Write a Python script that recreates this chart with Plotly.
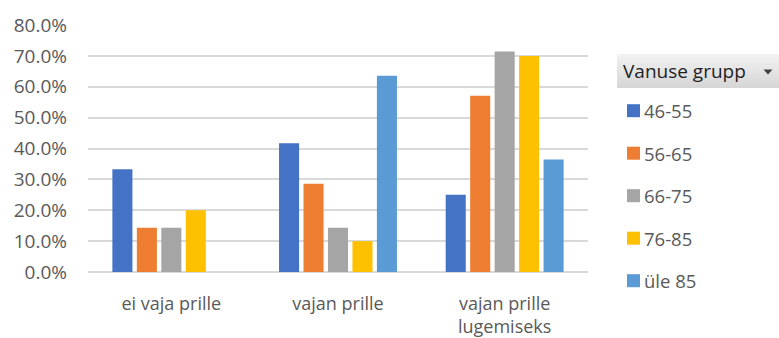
import plotly.graph_objects as go

# Categories and age groups
categories = ["ei vaja prille", "vajan prille", "vajan prille<br>lugemiseks"]
age_groups = ["46-55", "56-65", "66-75", "76-85", "üle 85"]

# Share of each answer within an age group
share_46_55 = [0.333, 0.417, 0.250]
share_56_65 = [0.143, 0.286, 0.571]
share_66_75 = [0.143, 0.143, 0.714]
share_76_85 = [0.200, 0.100, 0.700]
share_ule_85 = [0.0, 0.636, 0.364]

series_values = [share_46_55, share_56_65, share_66_75, share_76_85, share_ule_85]
colors = ["#4472C4", "#ED7D31", "#A5A5A5", "#FFC000", "#5B9BD5"]

legend_title = "Vanuse grupp"
y_ticks = [i / 10 for i in range(9)]

W, H = 779, 338
PLOT_L, PLOT_R, PLOT_T, PLOT_B = 88, 588, 25, 272
FONT = "Open Sans"
TEXT_GREY = "#595959"


def px(x):
    return (x - PLOT_L) / (PLOT_R - PLOT_L)


def py(y):
    return (PLOT_B - y) / (PLOT_B - PLOT_T)


fig = go.Figure()
for name, vals, col in zip(age_groups, series_values, colors):
    fig.add_trace(go.Bar(
        x=categories, y=vals, name=name,
        marker=dict(color=col, line=dict(width=0)),
        showlegend=False,
    ))

shapes = []
annotations = []

# Legend header: field button with a soft vertical gradient
hx0, hx1, hy0, hy1 = 617, 779, 54, 88
n_strips = 17
for i in range(n_strips):
    t = i / (n_strips - 1)
    g = int(round(0xF2 - t * (0xF2 - 0xD6)))
    c = f"rgb({g},{g},{g})"
    y0 = hy0 + (hy1 - hy0) * i / n_strips
    y1 = hy0 + (hy1 - hy0) * (i + 1) / n_strips
    shapes.append(dict(type="rect", xref="paper", yref="paper",
                       x0=px(hx0), x1=px(hx1), y0=py(y0), y1=py(y1),
                       fillcolor=c, line=dict(width=0), layer="below"))
annotations.append(dict(text=legend_title, xref="paper", yref="paper",
                        x=px(621), y=py(71.5), xanchor="left", yanchor="middle",
                        showarrow=False, font=dict(family=FONT, size=19, color="#1f1f1f")))
# dropdown arrow
tx, ty = 768, 72
shapes.append(dict(type="path", xref="paper", yref="paper",
                   path=f"M {px(tx-4.5)},{py(ty-2.5)} L {px(tx+4.5)},{py(ty-2.5)} L {px(tx)},{py(ty+2.5)} Z",
                   fillcolor="#404040", line=dict(width=0)))

# Legend entries
for i, (name, col) in enumerate(zip(age_groups, colors)):
    cy = 110.7 + 42.5 * i
    shapes.append(dict(type="rect", xref="paper", yref="paper",
                       x0=px(627), x1=px(640), y0=py(cy - 6.5), y1=py(cy + 6.5),
                       fillcolor=col, line=dict(width=0)))
    annotations.append(dict(text=name, xref="paper", yref="paper",
                            x=px(642), y=py(cy), xanchor="left", yanchor="middle",
                            showarrow=False, font=dict(family=FONT, size=18.5, color=TEXT_GREY)))

fig.update_layout(
    width=W, height=H,
    margin=dict(l=PLOT_L, r=W - PLOT_R, t=PLOT_T, b=H - PLOT_B, pad=0),
    paper_bgcolor="white", plot_bgcolor="white",
    barmode="group", bargap=0.266, bargroupgap=0.18,
    font=dict(family=FONT, size=18, color=TEXT_GREY),
    shapes=shapes, annotations=annotations,
    showlegend=False,
)
fig.update_yaxes(
    range=[0, 0.8], tickvals=y_ticks, tickformat=".1%",
    showgrid=True, gridcolor="#D9D9D9", gridwidth=2,
    zeroline=True, zerolinecolor="#D9D9D9", zerolinewidth=2,
    showline=False, ticks="", ticklabelstandoff=20, automargin=False,
    tickfont=dict(family=FONT, size=19, color=TEXT_GREY),
)
fig.update_xaxes(
    showgrid=False, showline=False, ticks="", ticklabelstandoff=19, automargin=False,
    tickfont=dict(family=FONT, size=18, color=TEXT_GREY),
)

fig.write_html("out.html")
